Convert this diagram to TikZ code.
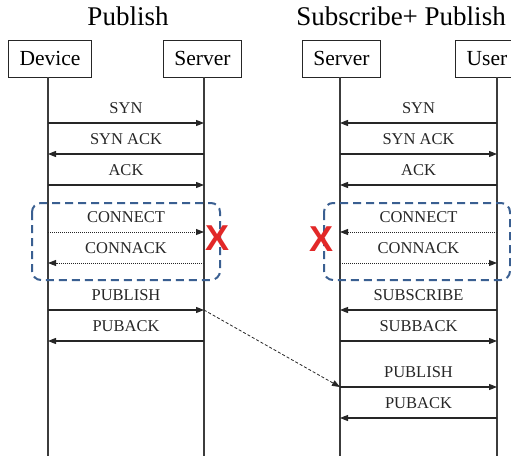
\documentclass[tikz,border=0pt]{standalone}
\usepackage{fontspec}
\setmainfont{Liberation Serif}
\newfontfamily\markfont{Liberation Sans}
\usetikzlibrary{arrows.meta,positioning}
\definecolor{sessblue}{RGB}{58,95,145}
\definecolor{failred}{RGB}{226,40,40}
\definecolor{lifegray}{RGB}{60,60,60}
\tikzset{
  ttl/.style     ={font=\fontsize{27}{27}\selectfont, inner sep=0pt},
  actor/.style   ={rectangle, draw=black!85, line width=0.9pt, fill=white,
                   minimum height=37pt, inner xsep=11pt, inner ysep=0pt,
                   font=\fontsize{21.5}{21.5}\selectfont},
  lifeline/.style={line width=1.2pt, lifegray},
  msg/.style     ={-{Triangle[length=8pt,width=6pt]}, line width=1.1pt, black!85},
  msgdot/.style  ={msg, line width=0.9pt, dash pattern=on 1pt off 1pt},
  lbl/.style     ={font=\fontsize{16.5}{16.5}\selectfont, inner sep=0pt, above=8.5pt},
  sessbox/.style ={draw=sessblue, line width=2pt, rounded corners=9pt,
                   dash pattern=on 8pt off 5pt},
  failmark/.style={font=\markfont\bfseries\fontsize{36}{36}\selectfont,
                   text=failred, inner sep=0pt},
  relay/.style   ={-{Triangle[length=8pt,width=6pt]}, line width=0.8pt,
                   black!85, dash pattern=on 3pt off 2pt},
}
\begin{document}
\begin{tikzpicture}[x=1pt,y=-1pt]
  \useasboundingbox (0,0) rectangle (511,456);
  \clip (0,0) rectangle (511,456);
  % titles
  \node[ttl] (tPub) at (128,16) {Publish};
  \node[ttl] (tSub) at (401,16) {Subscribe+ Publish};
  % participants
  \node[actor] (Device)  at (50,58.5)  {Device};
  \node[actor] (ServerL) at (202.5,58.5) {Server};
  \node[actor] (ServerR) at (341.5,58.5) {Server};
  \node[actor] (User)    at (487,58.5) {User};
  % lifelines
  \coordinate (dev)  at (48,77);
  \coordinate (srvL) at (204,77);
  \coordinate (srvR) at (340,77);
  \coordinate (usr)  at (497,77);
  \coordinate (bot)  at (0,456);
  \foreach \p in {dev,srvL,srvR,usr} {\draw[lifeline] (\p) -- (\p |- bot);}
  % session boxes
  \draw[sessbox] (32,203) rectangle (220,280);
  \draw[sessbox] (324,203) rectangle (510,280);
  % messages
  \foreach \y/\a/\b/\s/\t in {
      123/dev/srvL/msg/SYN, 154/srvL/dev/msg/SYN ACK, 185/dev/srvL/msg/ACK,
      232/dev/srvL/msgdot/CONNECT, 263/srvL/dev/msgdot/CONNACK,
      310/dev/srvL/msg/PUBLISH, 341/srvL/dev/msg/PUBACK,
      123/usr/srvR/msg/SYN, 154/srvR/usr/msg/SYN ACK, 185/usr/srvR/msg/ACK,
      232/usr/srvR/msgdot/CONNECT, 263/srvR/usr/msgdot/CONNACK,
      310/usr/srvR/msg/SUBSCRIBE, 341/srvR/usr/msg/SUBBACK,
      387/srvR/usr/msg/PUBLISH, 418/usr/srvR/msg/PUBACK} {
    \draw[\s] (\a |- 0,\y) -- node[lbl] {\t} (\b |- 0,\y);
  }
  % forwarded publish
  \coordinate (pubOut) at (srvL |- 0,310);
  \coordinate (pubIn)  at (srvR |- 0,387);
  \draw[relay] (pubOut) -- (pubIn);
  % failed connects
  \node[failmark] (xL) at (218,238) {X};
  \node[failmark] (xR) at (322,239) {X};
\end{tikzpicture}
\end{document}
